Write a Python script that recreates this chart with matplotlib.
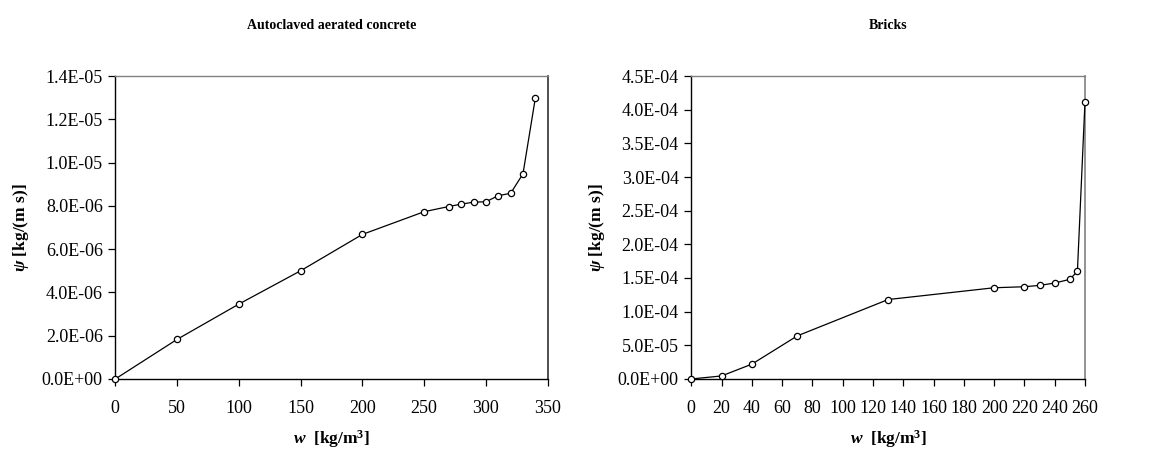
import matplotlib
matplotlib.use("Agg")
import matplotlib.pyplot as plt
from matplotlib.ticker import FuncFormatter, MultipleLocator

plt.rcParams['font.family'] = ['Liberation Serif', 'DejaVu Serif']
plt.rcParams['mathtext.fontset'] = 'custom'
plt.rcParams['mathtext.rm'] = 'Liberation Serif:bold'
plt.rcParams['mathtext.bf'] = 'Liberation Serif:bold'
plt.rcParams['mathtext.it'] = 'Liberation Serif:italic:bold'

# Autoclaved aerated concrete
aac_w = [0, 50, 100, 150, 200, 250, 270, 280, 290, 300, 310, 320, 330, 340]
aac_psi = [0.0, 1.83e-6, 3.46e-6, 5.0e-6, 6.68e-6, 7.73e-6, 7.97e-6, 8.08e-6,
           8.17e-6, 8.19e-6, 8.47e-6, 8.58e-6, 9.48e-6, 1.298e-5]

# Bricks
brick_w = [0, 20, 40, 70, 130, 200, 220, 230, 240, 250, 255, 260]
brick_psi = [0.0, 4.5e-6, 2.2e-5, 6.4e-5, 1.18e-4, 1.355e-4, 1.37e-4, 1.39e-4,
             1.425e-4, 1.48e-4, 1.6e-4, 4.12e-4]

titles = ["Autoclaved aerated concrete", "Bricks"]

fig = plt.figure(figsize=(11.54, 4.53), dpi=100)
ax1 = fig.add_axes([0.0999, 0.1634, 0.3747, 0.6688])
ax2 = fig.add_axes([0.5990, 0.1634, 0.3412, 0.6688])

fmt = FuncFormatter(lambda v, p: "%.1E" % v)

def style(ax, xs, ys, xmax, ymax, xstep, ystep, title, right_color):
    ax.plot(xs, ys, color='black', lw=0.9, marker='o', markersize=4.5,
            markerfacecolor='white', markeredgecolor='black', markeredgewidth=0.9,
            clip_on=False, zorder=5)
    ax.set_xlim(0, xmax)
    ax.set_ylim(0, ymax)
    ax.xaxis.set_major_locator(MultipleLocator(xstep))
    ax.yaxis.set_major_locator(MultipleLocator(ystep))
    ax.yaxis.set_major_formatter(fmt)
    ax.tick_params(axis='both', direction='out', length=5, width=0.9,
                   labelsize=13, colors='black')
    ax.tick_params(axis='x', pad=10)
    ax.tick_params(axis='y', pad=4)
    for s in ['left', 'bottom']:
        ax.spines[s].set_color('black')
        ax.spines[s].set_linewidth(1.0)
    ax.spines['top'].set_color('#808080')
    ax.spines['top'].set_linewidth(1.0)
    ax.spines['right'].set_color(right_color)
    ax.spines['right'].set_linewidth(1.2)
    ax.set_xlabel(r"$\mathit{w}$  [kg/m$^{\mathbf{3}}$]", fontsize=12.5,
                  fontweight='bold', labelpad=8)
    ax.set_ylabel(r"$\mathit{\psi}$ [kg/(m s)]", fontsize=12.5,
                  fontweight='bold', labelpad=8)
    ax.set_title(title, fontsize=10, fontweight='bold', pad=34)

style(ax1, aac_w, aac_psi, 350, 1.4e-5, 50, 2e-6, titles[0], '#303030')
style(ax2, brick_w, brick_psi, 260, 4.5e-4, 20, 5e-5, titles[1], '#808080')

fig.savefig("out.png", dpi=100)
